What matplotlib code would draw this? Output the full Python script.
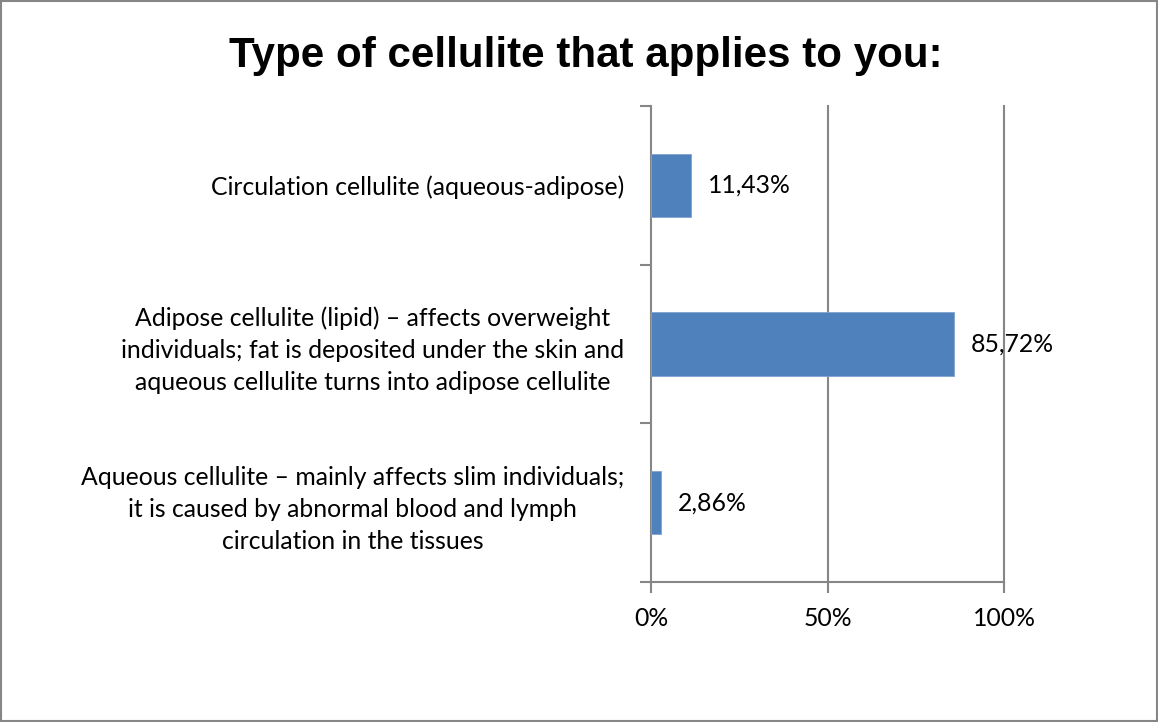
import matplotlib.pyplot as plt
from matplotlib.patches import Rectangle
from matplotlib.ticker import FixedLocator, NullFormatter

# ------------------------------------------------------------
# data
# ------------------------------------------------------------

categories = [
    "Circulation cellulite (aqueous-adipose)",
    "Adipose cellulite (lipid) \u2013 affects overweight\n"
    "individuals; fat is deposited under the skin and\n"
    "aqueous cellulite turns into adipose cellulite",
    "Aqueous cellulite \u2013 mainly affects slim individuals;\n"
    "it is caused by abnormal blood and lymph\n"
    "circulation in the tissues",
]
shares = [11.43, 85.72, 2.86]
x_ticks = [0, 50, 100]
x_tick_labels = ["0%", "50%", "100%"]

BAR_COLOR = "#4F81BD"
AXIS_COLOR = "#868686"
BODY_FONT = "Lato"
BODY_SIZE = 17.8

# ------------------------------------------------------------
# figure
# ------------------------------------------------------------

fig = plt.figure(figsize=(11.58, 7.22), dpi=100)
ax = fig.add_axes([651 / 1158, 1 - 582 / 722, 353 / 1158, 476 / 722])

positions = list(range(len(categories)))
ax.barh(positions, shares, height=0.4, color=BAR_COLOR,
        edgecolor="#7FA3D0", linewidth=0.6, zorder=3)

for pos, val in zip(positions, shares):
    ax.text(val + 4.8, pos, f"{val:.2f}%".replace(".", ","),
            va="center", ha="left", fontsize=BODY_SIZE, family=BODY_FONT,
            color="black", zorder=4)

ax.set_xlim(0, 100)
ax.set_ylim(len(categories) - 0.5, -0.5)

# vertical gridlines
for x in x_ticks[1:]:
    ax.axvline(x, color=AXIS_COLOR, linewidth=1.5, zorder=1, clip_on=False)

ax.set_xticks(x_ticks)
ax.set_xticklabels(x_tick_labels, family=BODY_FONT, fontsize=BODY_SIZE)
ax.tick_params(axis="x", direction="out", length=8, width=1.5,
               color=AXIS_COLOR, pad=10)

# category separators as major ticks, labels on minor ticks
ax.yaxis.set_major_locator(FixedLocator([-0.5, 0.5, 1.5, 2.5]))
ax.yaxis.set_major_formatter(NullFormatter())
ax.yaxis.set_minor_locator(FixedLocator(positions))
ax.set_yticklabels(categories, minor=True, family=BODY_FONT,
                   fontsize=BODY_SIZE, multialignment="center",
                   linespacing=1.48)
ax.tick_params(axis="y", which="major", direction="out", length=8,
               width=1.5, color=AXIS_COLOR)
ax.tick_params(axis="y", which="minor", length=0, pad=19)

for side in ["top", "right"]:
    ax.spines[side].set_visible(False)
for side in ["left", "bottom"]:
    ax.spines[side].set_color(AXIS_COLOR)
    ax.spines[side].set_linewidth(1.5)

fig.text(0.506, 1 - 56 / 722, "Type of cellulite that applies to you:",
         ha="center", va="center", fontsize=30.3, fontweight="bold",
         family="Liberation Sans")

# outer chart border
fig.patches.append(Rectangle((0.0008, 0.0012), 0.9984, 0.9976,
                             transform=fig.transFigure, fill=False,
                             edgecolor=AXIS_COLOR, linewidth=1.5))

fig.savefig("out.png", dpi=100)
